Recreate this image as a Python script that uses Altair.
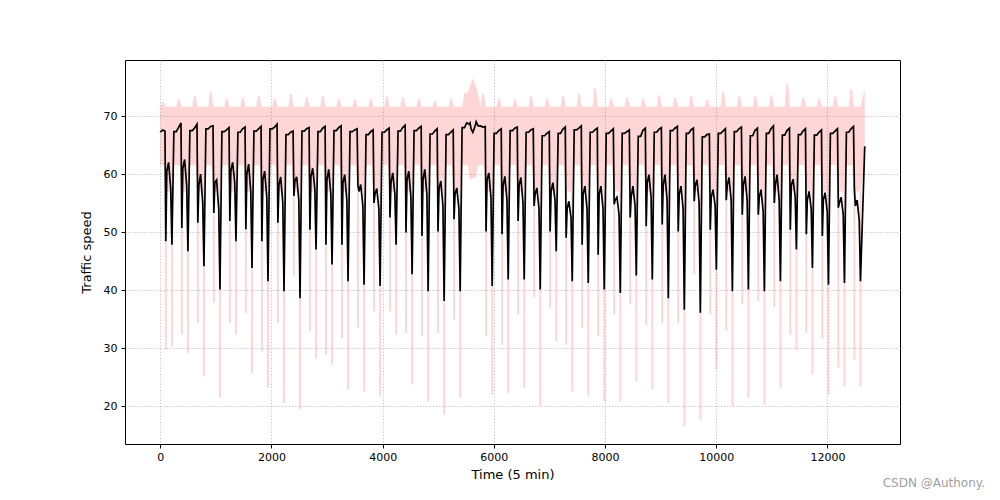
import altair as alt
import pandas as pd

DAY = 288  # 5-min steps per day

# Per-day readings of the mean speed (black line)
plateau = [67.2, 67.3, 67.5, 67.8, 67.3, 67.2, 67.4, 67.8, 66.8, 67.4,
           67.3, 67.5, 67.3, 66.8, 67.2, 67.4, 67.5, 66.9, 66.8, 68.0,
           68.3, 67.0, 67.5, 67.2, 66.6, 67.0, 67.6, 67.2, 67.0, 67.0,
           66.5, 67.2, 67.5, 67.0, 66.4, 67.0, 67.3, 66.6, 67.0, 66.7,
           66.8, 66.7, 67.0, 67.2]
night_mid = [67.6, 68.0, 67.9, 68.2, 67.6, 67.8, 67.8, 68.1, 67.2, 67.8,
             67.9, 68.0, 67.6, 67.3, 67.6, 68.0, 67.9, 67.4, 67.2, 68.8,
             68.1, 67.5, 67.9, 67.6, 67.0, 67.7, 67.9, 67.6, 67.4, 67.3,
             67.5, 67.7, 67.9, 67.6, 66.8, 67.4, 67.8, 67.5, 67.8, 67.5,
             67.4, 67.2, 67.4, 67.8]
peak = [67.4, 68.8, 68.6, 68.3, 68.0, 68.1, 68.2, 68.6, 67.4, 68.0,
        68.2, 68.3, 67.8, 67.6, 67.9, 68.4, 68.2, 67.8, 67.6, 68.6,
        68.2, 67.8, 68.1, 67.8, 67.3, 68.1, 68.3, 67.9, 67.8, 67.6,
        67.9, 68.0, 68.2, 67.9, 66.9, 67.8, 68.1, 67.9, 68.3, 67.9,
        67.8, 67.6, 67.8, 68.2]
dip_am = [48.4, 50.7, 51.6, 53.3, 51.9, 50.5, 48.4, 51.6, 56.2, 50.4,
          47.8, 47.8, 58.0, 55.0, 52.5, 49.9, 49.3, 50.1, 52.2, 68.8,
          50.1, 49.6, 51.9, 54.5, 50.1, 49.0, 47.8, 46.1, 54.8, 52.5,
          51.0, 51.3, 50.1, 55.3, 50.4, 55.5, 53.0, 53.0, 55.0, 50.4,
          49.6, 49.3, 54.2, 57.6]
am_rise = [60.5, 61.0, 58.0, 58.5, 60.5, 60.0, 59.0, 58.0, 58.8, 59.5,
           59.0, 58.5, 57.0, 56.5, 58.5, 59.0, 59.0, 57.5, 56.5, 67.8,
           59.0, 58.0, 58.0, 56.5, 57.0, 54.0, 56.5, 56.5, 55.5, 56.0,
           58.5, 58.0, 56.5, 58.0, 56.0, 58.0, 58.0, 56.0, 58.0, 58.0,
           55.5, 55.5, 55.0, 54.5]
midday = [62.0, 62.5, 60.0, 59.0, 62.0, 61.7, 60.5, 59.5, 59.5, 61.0,
          60.8, 59.9, 58.2, 57.5, 60.2, 60.5, 60.8, 58.8, 57.6, 67.2,
          60.2, 59.6, 59.4, 57.6, 58.5, 55.3, 57.9, 57.9, 56.0, 57.9,
          59.9, 59.9, 57.9, 59.0, 57.3, 59.4, 59.6, 57.3, 59.9, 59.1,
          57.0, 56.8, 56.0, 55.5]
pm_shoulder = [57.5, 58.0, 55.0, 54.0, 58.5, 57.0, 56.0, 55.0, 55.5, 57.5,
               56.5, 55.5, 54.5, 54.0, 56.5, 56.0, 56.5, 54.5, 54.0, 68.2,
               56.0, 55.5, 55.0, 54.0, 55.5, 52.5, 54.0, 54.0, 53.0, 54.5,
               56.0, 55.5, 54.0, 55.0, 54.5, 55.5, 55.5, 53.5, 55.5, 56.0,
               54.0, 53.5, 53.0, 52.0]
dip_pm = [47.8, 46.7, 44.1, 40.1, 48.4, 43.8, 41.5, 39.8, 38.6, 47.0,
          44.4, 41.5, 40.9, 40.7, 47.8, 42.7, 39.8, 38.1, 39.8, 69.0,
          40.7, 41.8, 41.8, 40.1, 46.7, 41.5, 41.2, 40.1, 39.5, 42.5,
          41.8, 38.6, 36.6, 36.1, 43.5, 39.8, 40.1, 39.8, 41.5, 47.0,
          43.8, 40.9, 41.2, 41.5]
end_step, end_speed = 12671, 64.8

# Per-day readings of the spread band (pink)
low_am = [29.7, 32.3, 34.3, 37.8, 34.3, 36.0, 29.4, 34.3, 42.4, 32.9,
          28.9, 31.7, 33.5, 36.3, 36.3, 32.6, 32.0, 32.6, 34.9, 59.0,
          32.0, 30.6, 35.8, 38.7, 36.8, 30.6, 33.5, 32.0, 35.8, 37.5,
          34.0, 34.3, 34.3, 42.7, 35.8, 33.0, 37.5, 38.1, 37.0, 32.3,
          32.6, 31.7, 26.6, 28.0]
low_pm = [30.3, 29.1, 25.1, 21.4, 32.3, 25.7, 23.1, 20.5, 19.4, 28.2,
          27.1, 22.8, 22.5, 21.7, 32.3, 23.7, 20.8, 18.5, 21.4, 59.5,
          22.0, 22.2, 23.1, 20.0, 31.2, 22.5, 21.7, 20.8, 20.8, 24.3,
          22.8, 20.5, 16.5, 17.6, 26.3, 20.0, 21.4, 20.2, 23.1, 29.7,
          25.4, 22.0, 23.4, 23.4]
top = [72.5, 73.0, 73.5, 74.2, 73.0, 73.2, 73.5, 73.0, 73.8, 73.2,
       73.5, 73.0, 72.8, 73.0, 73.4, 73.2, 73.0, 72.6, 73.0, 74.0,
       73.8, 73.0, 72.8, 73.4, 73.0, 73.5, 73.8, 74.8, 73.0, 73.2,
       73.0, 73.6, 73.2, 73.5, 72.8, 74.2, 73.5, 73.4, 73.6, 75.6,
       73.2, 73.0, 73.4, 74.6]
# holiday (day 19) upper edge of the band at the morning / midday / evening
holiday_top = [75.2, 76.5, 75.0]
night_low = 61.5
day_low, day_high = 57.0, 71.6

n = len(plateau)
mean_rows, band_rows, spike_rows = [], [], []
for d in range(n):
    b = d * DAY
    holiday = dip_am[d] > 65
    mean_rows += [
        (b + 0, plateau[d]),
        (b + 40, night_mid[d]),
        (b + 85, peak[d]),
        (b + 100, dip_am[d]),
        (b + 118, am_rise[d]),
        (b + 150, midday[d]),
        (b + 188, pm_shoulder[d]),
        (b + 210, dip_pm[d]),
    ]
    if holiday:
        band_rows += [
            (b + 0, night_low, top[d]),
            (b + 60, night_low, top[d]),
            (b + 100, low_am[d], holiday_top[0]),
            (b + 150, (low_am[d] + low_pm[d]) / 2, holiday_top[1]),
            (b + 210, low_pm[d], holiday_top[2]),
        ]
    else:
        band_rows += [
            (b + 0, night_low, day_high),
            (b + 30, night_low, top[d]),
            (b + 60, night_low, top[d]),
            (b + 90, day_low, day_high),
            (b + 150, day_low, day_high),
            (b + 210, day_low, day_high),
        ]
        spike_rows += [(b + 100, day_low, low_am[d]), (b + 210, day_low, low_pm[d])]
    if d < n - 1:
        mean_rows.append((b + 245, plateau[d + 1]))
        band_rows.append((b + 245, night_low, top[d + 1] if holiday else day_high))
    else:
        mean_rows.append((end_step, end_speed))
        band_rows.append((end_step, night_low, top[d]))

mean_df = pd.DataFrame(mean_rows, columns=["t", "speed"])
band_df = pd.DataFrame(band_rows, columns=["t", "lo", "hi"])
spike_df = pd.DataFrame(spike_rows, columns=["t", "top_", "low"])

xs = alt.Scale(domain=[-634, 13305], nice=False, zero=False)
ys = alt.Scale(domain=[13.45, 79.66], nice=False, zero=False)

x_axis = alt.Axis(values=[0, 2000, 4000, 6000, 8000, 10000, 12000], format="d",
                  title="Time (5 min)")
y_axis = alt.Axis(values=[20, 30, 40, 50, 60, 70], format="d", title="Traffic speed")

band = alt.Chart(band_df).mark_area(color="#ff0000", opacity=0.16).encode(
    x=alt.X("t:Q", scale=xs, axis=x_axis),
    y=alt.Y("lo:Q", scale=ys, axis=y_axis),
    y2="hi:Q",
)
spikes = alt.Chart(spike_df).mark_rule(color="#ff0000", opacity=0.16, strokeWidth=2.0).encode(
    x=alt.X("t:Q", scale=xs),
    y=alt.Y("low:Q", scale=ys),
    y2="top_:Q",
)
line = alt.Chart(mean_df).mark_line(color="black", strokeWidth=1.7).encode(
    x=alt.X("t:Q", scale=xs),
    y=alt.Y("speed:Q", scale=ys),
)
mark_df = pd.DataFrame({"label": ["CSDN @Authony."]})
watermark = alt.Chart(mark_df).mark_text(
    align="right", baseline="middle", font="DejaVu Sans", fontSize=12, color="#a0a0a0"
).encode(text="label:N", x=alt.value(860), y=alt.value(423))

chart = alt.layer(band, spikes, line, watermark).properties(
    width=775, height=384,
    padding={"left": 117, "top": 52, "right": 92, "bottom": 48},
    autosize=alt.AutoSizeParams(type="none"),
).configure_view(stroke="black", strokeWidth=1).configure_axis(
    labelFont="DejaVu Sans", titleFont="DejaVu Sans",
    labelFontSize=11, titleFontSize=13, titleFontWeight="normal",
    labelColor="black", titleColor="black",
    domain=False, tickColor="black", tickSize=4, tickWidth=1,
    labelPadding=3, grid=True, gridColor="#b0b0b0", gridDash=[1.2, 2], gridWidth=0.8,
).configure_axisX(titlePadding=6).configure_axisY(titlePadding=10, labelPadding=4)

chart.save("out.html", embed_options={"renderer": "svg", "actions": False})
